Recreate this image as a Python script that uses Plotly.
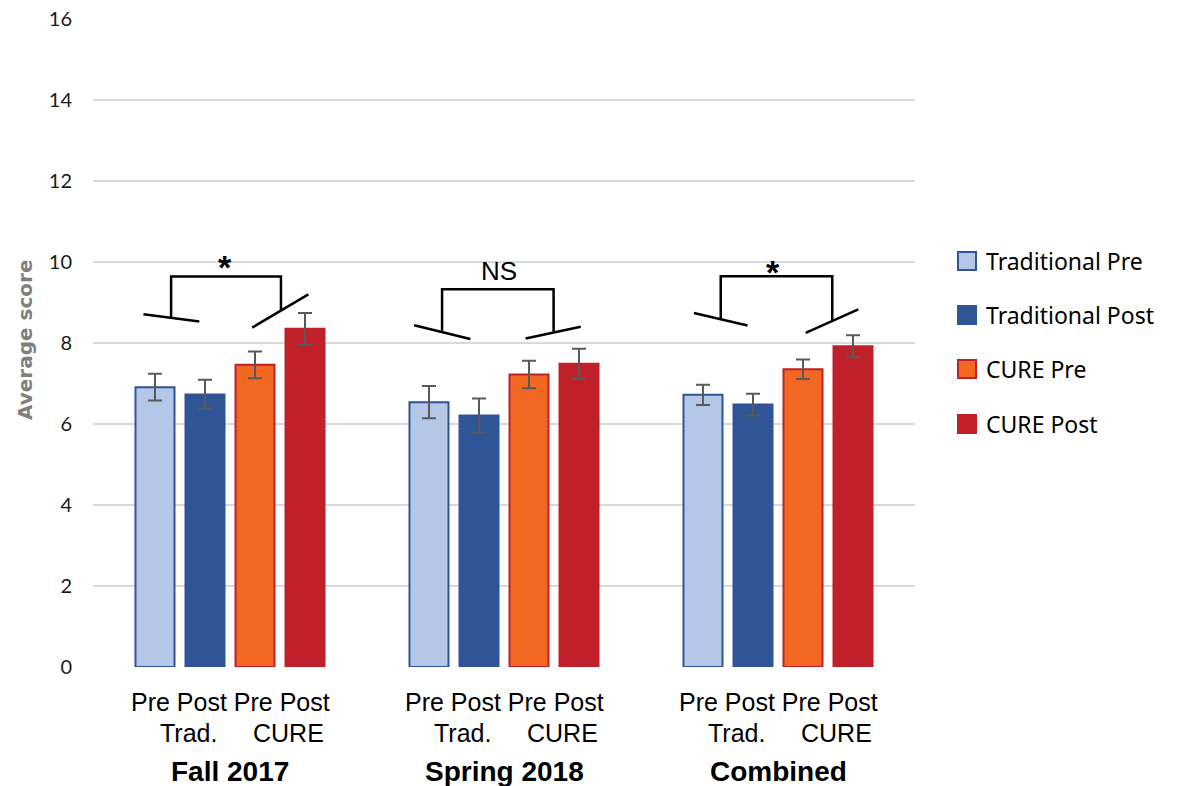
import plotly.graph_objects as go

# ---- data -------------------------------------------------------------
terms = ["Fall 2017", "Spring 2018", "Combined"]
series_names = ["Traditional Pre", "Traditional Post", "CURE Pre", "CURE Post"]

trad_pre = [6.91, 6.54, 6.72]
trad_post = [6.73, 6.21, 6.48]
cure_pre = [7.46, 7.22, 7.35]
cure_post = [8.35, 7.49, 7.92]

trad_pre_err = [0.33, 0.40, 0.25]
trad_post_err = [0.36, 0.42, 0.27]
cure_pre_err = [0.33, 0.34, 0.24]
cure_post_err = [0.39, 0.37, 0.27]

significance = ["*", "NS", "*"]
y_ticks = [0, 2, 4, 6, 8, 10, 12, 14, 16]

# ---- styling ----------------------------------------------------------
W, H = 1203, 786
ML, MR, MT, MB = 93, 288, 19, 119
PW, PH = W - ML - MR, H - MT - MB

fills = ["#b4c7e7", "#2f5597", "#f26722", "#c0202a"]
edges = ["#2f5597", "#2f5597", "#c0202a", "#c0202a"]
values = [trad_pre, trad_post, cure_pre, cure_post]
errors = [trad_pre_err, trad_post_err, cure_pre_err, cure_post_err]


def px_x(px):
    return (px - ML) / PW


def px_y(py):
    return (H - MB - py) / PH


fig = go.Figure()
for name, v, e, fc, ec in zip(series_names, values, errors, fills, edges):
    fig.add_trace(go.Bar(
        name=name, x=terms, y=v,
        marker=dict(color=fc, line=dict(color=ec, width=2)),
        error_y=dict(type="data", array=e, visible=True,
                     color="#595959", thickness=2, width=7),
        showlegend=False,
    ))

# ---- significance brackets (x relative to group centre, y in score units)
bracket_geom = [
    dict(top=9.64, lx=-0.215, rx=0.186, lb=8.62, rb=8.81,
         ls=((-0.316, 8.71), (-0.112, 8.53)), rs=((0.081, 8.38), (0.286, 9.20)),
         ty=9.88),
    dict(top=9.33, lx=-0.226, rx=0.181, lb=8.30, rb=8.28,
         ls=((-0.328, 8.44), (-0.123, 8.10)), rs=((0.079, 8.11), (0.280, 8.40)),
         ty=9.78),
    dict(top=9.65, lx=-0.209, rx=0.198, lb=8.59, rb=8.57,
         ls=((-0.307, 8.74), (-0.111, 8.43)), rs=((0.101, 8.25), (0.293, 8.83)),
         ty=9.76),
]

line_style = dict(color="black", width=2.5)
for gi, (g, label) in enumerate(zip(bracket_geom, significance)):
    path = (f"M{gi + g['lx']},{g['lb']} L{gi + g['lx']},{g['top']} "
            f"L{gi + g['rx']},{g['top']} L{gi + g['rx']},{g['rb']}")
    fig.add_shape(type="path", path=path, xref="x", yref="y", line=line_style)
    for (x0, y0), (x1, y1) in (g["ls"], g["rs"]):
        fig.add_shape(type="line", xref="x", yref="y",
                      x0=gi + x0, y0=y0, x1=gi + x1, y1=y1, line=line_style)
    star = label == "*"
    fig.add_annotation(x=gi - 0.02, y=g["ty"], xref="x", yref="y",
                       text=f"<b>{label}</b>" if star else label, showarrow=False,
                       font=dict(family="Liberation Sans", size=34 if star else 26,
                                 color="black"),
                       yanchor="middle")

# ---- category labels under each group
label_font = dict(family="Liberation Sans", size=25, color="black")
for gi, term in enumerate(terms):
    fig.add_annotation(x=gi, y=px_y(702), xref="x", yref="paper",
                       text="Pre Post Pre Post", showarrow=False,
                       font=label_font, yanchor="middle")
    fig.add_annotation(x=gi - 0.15, y=px_y(733), xref="x", yref="paper",
                       text="Trad.", showarrow=False,
                       font=label_font, yanchor="middle")
    fig.add_annotation(x=gi + 0.215, y=px_y(733), xref="x", yref="paper",
                       text="CURE", showarrow=False,
                       font=label_font, yanchor="middle")
    fig.add_annotation(x=gi, y=px_y(771), xref="x", yref="paper",
                       text=f"<b>{term}</b>", showarrow=False,
                       font=dict(family="Liberation Sans", size=28, color="black"),
                       yanchor="middle")

# ---- y-axis title
fig.add_annotation(x=px_x(25), y=px_y(340), xref="paper", yref="paper",
                   text="<b>Average score</b>", textangle=-90, showarrow=False,
                   font=dict(family="DejaVu Sans", size=20, color="#7f7f7f"),
                   xanchor="center", yanchor="middle")

# ---- legend
legend_rows = [261, 315, 369, 424]
for name, fc, ec, row in zip(series_names, fills, edges, legend_rows):
    fig.add_shape(type="rect", xref="paper", yref="paper",
                  x0=px_x(958), x1=px_x(976), y0=px_y(row - 9), y1=px_y(row + 9),
                  fillcolor=fc, line=dict(color=ec, width=2))
    fig.add_annotation(x=px_x(984), y=px_y(row), xref="paper", yref="paper",
                       text=name, showarrow=False, xanchor="left", yanchor="middle",
                       font=dict(family="Noto Sans", size=23, color="black"))

fig.update_layout(
    width=W, height=H,
    margin=dict(l=ML, r=MR, t=MT, b=MB, autoexpand=False),
    paper_bgcolor="white", plot_bgcolor="white",
    barmode="group", bargap=0.27, bargroupgap=0.22,
    showlegend=False,
    xaxis=dict(type="category", range=[-0.5, 2.5], showticklabels=False,
               showgrid=False, zeroline=False, showline=False, fixedrange=True),
    yaxis=dict(range=[0, 16], tickvals=y_ticks, showgrid=True,
               gridcolor="#d9d9d9", gridwidth=1.5, zeroline=False,
               showline=False, ticks="", ticklabelstandoff=20,
               tickfont=dict(family="Lato", size=20, color="#1a1a1a")),
)

fig.write_html("out.html")
